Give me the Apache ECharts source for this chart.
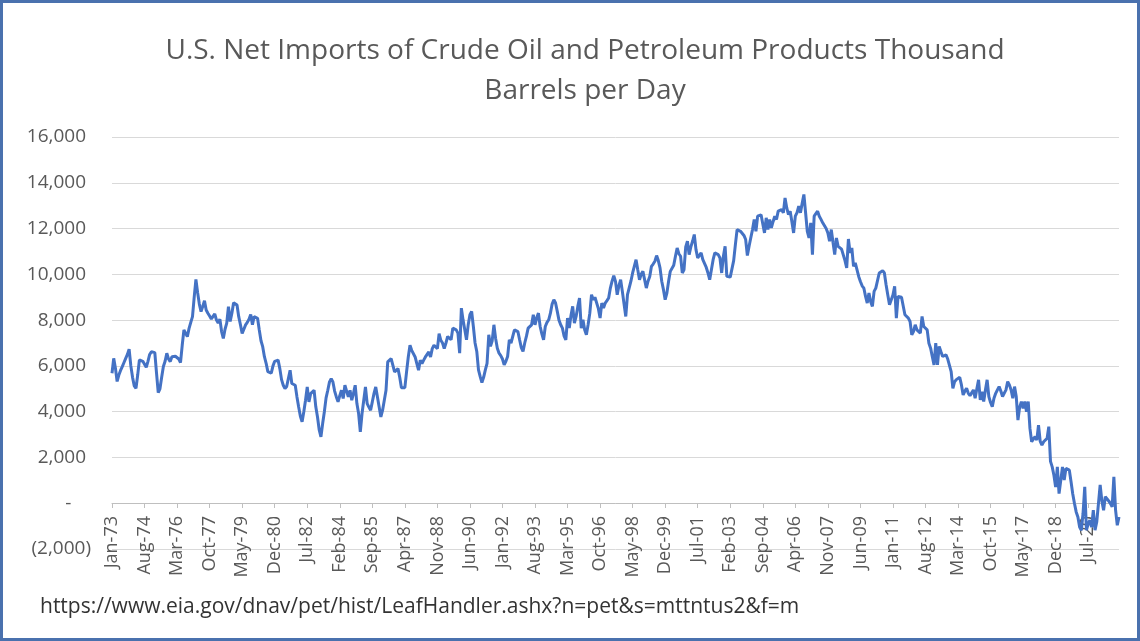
<!DOCTYPE html>
<html>
<head>
<meta charset="utf-8">
<title>U.S. Net Imports of Crude Oil and Petroleum Products</title>
<script src="https://cdn.jsdelivr.net/npm/echarts@6/dist/echarts.min.js"></script>
<style>
  html, body { margin: 0; padding: 0; background: #ffffff; }
  #frame {
    position: absolute; left: 0; top: 0; width: 1140px; height: 641px;
    box-sizing: border-box; border: 3px solid #4a71ae; background: #ffffff;
  }
  #chart { position: absolute; left: 0; top: 0; width: 1140px; height: 641px; }
</style>
</head>
<body>
<div id="frame"></div>
<div id="chart"></div>
<script>
// monthly net imports, thousand barrels per day, starting Jan-1973
const startYear = 1973;
const imports1970s = [
  5680, 6330, 5900, 5320, 5600, 5800, 5970, 6150, 6330, 6500, 6730, 6000,
  5500, 5125, 5020, 5600, 6260, 6290, 6200, 6115, 5940, 6200, 6500, 6620,
  6600, 6580, 5680, 4835, 5000, 5500, 5970, 6200, 6550, 6300, 6190, 6400,
  6480, 6420, 6380, 6300, 6145, 6900, 7570, 7640, 7280, 7640, 7900, 8150,
  9000, 9780, 9200, 8700, 8370, 8600, 8850, 8440, 8300, 8180, 8050, 8000,
  8270, 8000, 7870, 8040, 7500, 7200, 7600, 7870, 8590, 7940, 8300, 8760,
  8700, 8660, 8150, 7800, 7420, 7600, 7790, 7900, 8040, 8250, 7800, 8150
];
const imports1980s = [
  8100, 8080, 7570, 7100, 6840, 6400, 6115, 5750, 5700, 5680, 6000, 6200,
  6260, 6250, 5880, 5400, 5155, 5010, 5100, 5155, 5810, 5230, 5200, 5155,
  4645, 4200, 3800, 3555, 4000, 4500, 5080, 4430, 4790, 4850, 4935, 4210,
  3770, 3200, 2900, 3480, 4000, 4600, 4935, 5300, 5445, 5300, 4900, 4645,
  4430, 4700, 4935, 4575, 5155, 4900, 4645, 4935, 4500, 4800, 5155, 4355,
  3920, 3120, 3920, 4500, 5080, 4355, 4200, 4065, 4430, 4800, 5080, 4645,
  4200, 3770, 4065, 4500, 4935, 6175, 6250, 6320, 6390, 5735, 5800, 5880,
  5500, 5050, 5050, 5050, 5735, 6390, 6900, 6680, 6680, 6390, 6100, 5810,
  6250, 6100, 6250, 6390, 6500, 6610, 6390, 6755, 6900, 6975, 6755, 7410,
  7120, 7000, 6755, 7000, 7285, 7300, 7140, 7650, 7600, 7575, 7430, 6555
];
const imports1990s = [
  8525, 8000, 7575, 7140, 7800, 8235, 8380, 7720, 7000, 6630, 5825, 5530,
  5270, 5500, 5825, 6115, 7360, 6850, 7100, 7795, 7200, 6775, 6555, 6450,
  6300, 6045, 6200, 6410, 7140, 7000, 6920, 7575, 7500, 7500, 7140, 6800,
  6630, 7000, 7300, 7650, 7700, 7795, 8235, 7795, 8100, 8305, 7720, 7400,
  7140, 7720, 7900, 8015, 8305, 8700, 8890, 8745, 8380, 8000, 7795, 7650,
  7300, 7140, 8090, 7650, 8200, 8600, 7870, 8160, 8600, 8965, 7650, 8015,
  7575, 7355, 7800, 8305, 9110, 8890, 9000, 9035, 8500, 8090, 8745, 8525,
  8745, 8850, 8965, 9400, 9700, 9940, 9690, 9110, 9500, 9765, 9255, 8700,
  8160, 9110, 9035, 9700, 10060, 10130, 10640, 10200, 9765, 10000, 10130, 10060,
  9400, 9700, 9910, 10350, 10450, 10570, 10820, 10600, 10280, 9700, 9330, 8890
];
const imports2000s = [
  9180, 9700, 10130, 10060, 10400, 10790, 11150, 10900, 10790, 10060, 10200, 11200,
  11445, 10860, 11200, 11445, 11740, 11080, 10715, 10800, 10935, 10640, 10715, 10300,
  10060, 9765, 10200, 10640, 10935, 10900, 10860, 10715, 10060, 10790, 11225, 9910,
  9900, 9880, 9910, 10600, 11300, 11955, 11900, 11880, 11925, 11700, 11520, 10820,
  11225, 11600, 11955, 12395, 11880, 12540, 12615, 12600, 12615, 11810, 12470, 11955,
  12395, 12030, 12300, 12540, 12395, 12760, 12800, 12830, 12685, 13340, 12900, 12610,
  12760, 12300, 11810, 12540, 12700, 12980, 12690, 13100, 13490, 12690, 11880, 11590,
  12250, 10860, 12540, 12650, 12760, 12540, 12400, 12250, 12320, 12000, 11810, 11445,
  11955, 11400, 10860, 11590, 11225, 11150, 11100, 11080, 10600, 10280, 11545, 10935,
  11150, 10350, 10500, 10570, 9910, 9690, 9500, 9400, 9035, 8745, 9180, 8800
];
const imports2010s = [
  8600, 9255, 9400, 9475, 10060, 10100, 10160, 10060, 9545, 9100, 8670, 8600,
  9100, 9475, 8090, 9035, 9035, 9000, 8965, 8235, 8150, 8090, 7940, 7355,
  7500, 7795, 7575, 7500, 7430, 8160, 7720, 7650, 7575, 6990, 6775, 6400,
  6045, 6990, 6045, 6850, 6625, 6410, 6450, 6480, 6300, 6260, 5750, 5020,
  5310, 5400, 5460, 5500, 5170, 4730, 4900, 5020, 4800, 4700, 4660, 4950,
  4585, 5000, 5390, 4510, 4875, 4440, 4950, 5390, 4660, 4400, 4220, 4585,
  4800, 4950, 5095, 4900, 4660, 4585, 4950, 5315, 5170, 4950, 4585, 5095,
  4660, 3635, 4200, 4440, 4145, 4440, 4000, 4440, 3270, 2685, 2800, 2905,
  2760, 3415, 2700, 2540, 2685, 2615, 2830, 3345, 1830, 1590, 1225, 710,
  1590, 420, 1000, 1590, 1010, 1520, 1480, 1445, 935, 400, -15, -380
];
const imports2020s = [
  -600, -1040, -1180, -450, 715, -1180, -900, -745, -1040, -305, -1180, -820,
  -15, 800, 100, -305, 280, 205, 100, -15, -160, 1155, -305, -965,
  -600
];

const monthNames = ['Jan', 'Feb', 'Mar', 'Apr', 'May', 'Jun', 'Jul', 'Aug', 'Sep', 'Oct', 'Nov', 'Dec'];
const yTicks = { min: -2000, max: 16000, step: 2000 };
const titleText = 'U.S. Net Imports of Crude Oil and Petroleum Products Thousand\nBarrels per Day';
const sourceText = 'https://www.eia.gov/dnav/pet/hist/LeafHandler.ashx?n=pet&s=mttntus2&f=m';

const netImports = [].concat(imports1970s, imports1980s, imports1990s, imports2000s, imports2010s, imports2020s);

const months = netImports.map((v, i) => {
  const y = startYear + Math.floor(i / 12);
  return monthNames[i % 12] + '-' + String(y % 100).padStart(2, '0');
});

// excel accounting style: 16,000 / - / (2,000)
function accounting(v) {
  if (v === 0) return '-    ';
  const s = Math.abs(v).toLocaleString('en-US');
  return v < 0 ? '(' + s + ')' : s + ' ';
}

const chartDom = document.getElementById('chart');
const myChart = echarts.init(chartDom);

const option = {
  animation: false,
  textStyle: { fontFamily: 'Open Sans' },
  title: {
    text: titleText,
    left: 580,
    top: 26,
    textAlign: 'center',
    textStyle: {
      fontFamily: 'Open Sans',
      fontSize: 28,
      fontWeight: 'normal',
      color: '#595959',
      lineHeight: 40,
    },
  },
  grid: {
    left: 112,
    right: 21,
    top: 137,
    bottom: 92,
  },
  xAxis: {
    type: 'category',
    data: months,
    boundaryGap: false,
    // axis sits on the zero line, 1/9 of the plot height above the bottom
    offset: -46,
    axisLine: { onZero: false, lineStyle: { color: '#bfbfbf', width: 1 } },
    axisTick: { show: true, interval: 18, length: 5, lineStyle: { color: '#bfbfbf' } },
    axisLabel: {
      interval: 18,
      rotate: 90,
      margin: 13,
      fontSize: 18,
      color: '#595959',
    },
    splitLine: { show: false },
  },
  yAxis: {
    type: 'value',
    min: yTicks.min,
    max: yTicks.max,
    interval: yTicks.step,
    axisLine: { show: false },
    axisTick: { show: false },
    axisLabel: {
      margin: 21,
      fontSize: 19,
      color: '#595959',
      formatter: accounting,
    },
    splitLine: { lineStyle: { color: '#d9d9d9', width: 1 } },
  },
  series: [
    {
      name: 'Net Imports',
      type: 'line',
      data: netImports,
      showSymbol: false,
      symbol: 'none',
      lineStyle: { color: '#4472c4', width: 3 },
      itemStyle: { color: '#4472c4' },
    },
  ],
  graphic: [
    {
      type: 'text',
      left: 40,
      top: 597,
      style: {
        text: sourceText,
        fontFamily: 'Open Sans',
        fontSize: 21,
        fill: '#333333',
      },
    },
  ],
};

option && myChart.setOption(option);
</script>
</body>
</html>
